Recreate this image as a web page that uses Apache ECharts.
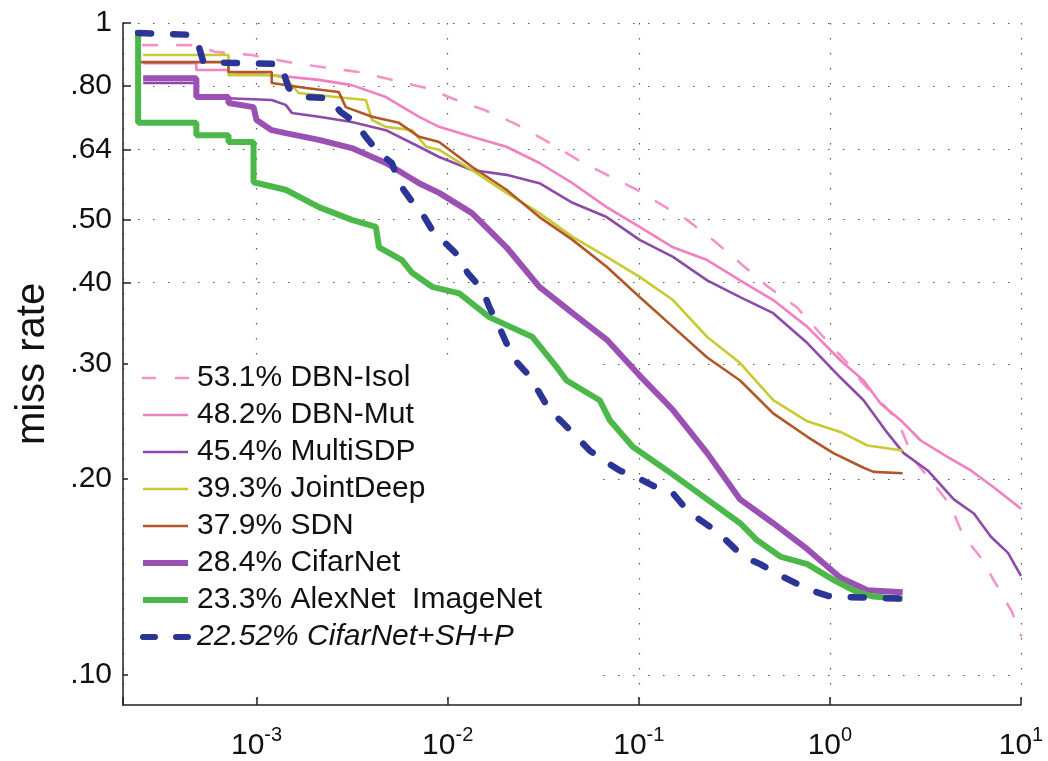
<!DOCTYPE html>
<html>
<head>
<meta charset="utf-8">
<script src="https://cdn.jsdelivr.net/npm/echarts@6/dist/echarts.min.js"></script>
<style>
  html, body { margin: 0; padding: 0; background: #fff; }
  #chart { width: 1048px; height: 761px; }
</style>
</head>
<body>
<div id="chart"></div>
<script>
// tick values
var yTicks = [0.1, 0.2, 0.3, 0.4, 0.5, 0.64, 0.8, 1];

// legend names
var names = [
    '53.1% DBN-Isol',
    '48.2% DBN-Mut',
    '45.4% MultiSDP',
    '39.3% JointDeep',
    '37.9% SDN',
    '28.4% CifarNet',
    '23.3% AlexNet  ImageNet',
    '22.52% CifarNet+SH+P'
];

// curves: [false positives per image, miss rate]
var dbnIsol = [[2.55e-4, 0.925], [4.78e-4, 0.925], [6.09e-4, 0.903], [9.41e-4, 0.893], [1.47e-3, 0.871],
    [2.19e-3, 0.856], [3.43e-3, 0.841], [5.11e-3, 0.818], [7.71e-3, 0.795], [1.11e-2, 0.762],
    [1.55e-2, 0.736], [2.32e-2, 0.698], [3.41e-2, 0.655], [5.02e-2, 0.612], [7.30e-2, 0.579],
    [9.76e-2, 0.555], [0.124, 0.532], [0.179, 0.499], [0.251, 0.462], [0.347, 0.426],
    [0.475, 0.394], [0.675, 0.366], [0.924, 0.330], [1.236, 0.301], [1.446, 0.283],
    [2.261, 0.246], [2.744, 0.214], [3.370, 0.199], [4.29, 0.182], [4.96, 0.164],
    [6.21, 0.151], [7.39, 0.138], [8.97, 0.125], [10, 0.115]];

var dbnMut = [[2.55e-4, 0.868], [4.84e-4, 0.868], [4.84e-4, 0.847], [7.13e-4, 0.847], [7.13e-4, 0.841],
    [1.20e-3, 0.832], [2.12e-3, 0.818], [3.15e-3, 0.803], [4.75e-3, 0.770], [7.09e-3, 0.718],
    [9.02e-3, 0.693], [1.34e-2, 0.669], [2.03e-2, 0.646], [3.02e-2, 0.610], [4.50e-2, 0.568],
    [6.79e-2, 0.522], [0.101, 0.487], [0.151, 0.453], [0.228, 0.433], [0.339, 0.403],
    [0.505, 0.376], [0.762, 0.342], [1.135, 0.304], [1.50, 0.283], [1.841, 0.261],
    [2.345, 0.246], [2.987, 0.229], [4.139, 0.216], [5.465, 0.206], [7.218, 0.194], [10, 0.180]];

var multiSdp = [[2.55e-4, 0.809], [4.84e-4, 0.809], [4.84e-4, 0.770], [1.20e-3, 0.762], [1.42e-3, 0.749],
    [1.53e-3, 0.728], [2.12e-3, 0.718], [3.15e-3, 0.705], [4.75e-3, 0.685], [7.09e-3, 0.646],
    [9.02e-3, 0.623], [1.34e-2, 0.595], [2.03e-2, 0.585], [3.02e-2, 0.568], [4.50e-2, 0.530],
    [6.79e-2, 0.504], [0.101, 0.465], [0.151, 0.438], [0.228, 0.403], [0.339, 0.380],
    [0.505, 0.359], [0.762, 0.323], [1.135, 0.286], [1.50, 0.264], [2.004, 0.235],
    [2.432, 0.219], [3.250, 0.206], [4.449, 0.186], [5.667, 0.177], [6.960, 0.163],
    [8.55, 0.154], [10, 0.142]];

var jointDeep = [[2.55e-4, 0.893], [7.13e-4, 0.893], [7.13e-4, 0.832], [1.20e-3, 0.832], [1.42e-3, 0.823],
    [1.66e-3, 0.781], [2.60e-3, 0.770], [3.73e-3, 0.762], [4.02e-3, 0.710], [4.75e-3, 0.693],
    [6.51e-3, 0.685], [7.71e-3, 0.646], [9.02e-3, 0.639], [1.34e-2, 0.595], [2.03e-2, 0.549],
    [3.02e-2, 0.511], [4.50e-2, 0.470], [6.79e-2, 0.438], [0.101, 0.408], [0.151, 0.376],
    [0.228, 0.330], [0.339, 0.301], [0.505, 0.264], [0.762, 0.245], [1.135, 0.236],
    [1.574, 0.225], [2.403, 0.221]];

var sdn = [[2.40e-4, 0.871], [7.13e-4, 0.871], [7.13e-4, 0.841], [1.20e-3, 0.841], [1.20e-3, 0.809],
    [1.81e-3, 0.795], [2.69e-3, 0.784], [2.93e-3, 0.743], [4.02e-3, 0.718], [5.56e-3, 0.703],
    [7.09e-3, 0.669], [9.02e-3, 0.657], [1.34e-2, 0.602], [2.03e-2, 0.555], [3.02e-2, 0.504],
    [4.50e-2, 0.465], [6.79e-2, 0.423], [0.101, 0.380], [0.151, 0.342], [0.228, 0.307],
    [0.339, 0.283], [0.505, 0.252], [0.762, 0.232], [1.043, 0.219], [1.50, 0.208],
    [1.692, 0.205], [2.403, 0.204]];

var cifarNet = [[2.55e-4, 0.823], [4.84e-4, 0.823], [4.84e-4, 0.770], [7.13e-4, 0.770], [7.13e-4, 0.754],
    [9.64e-4, 0.743], [1.0e-3, 0.710], [1.20e-3, 0.685], [1.42e-3, 0.678], [2.12e-3, 0.662],
    [3.15e-3, 0.643], [4.75e-3, 0.610], [7.09e-3, 0.568], [9.02e-3, 0.549], [1.34e-2, 0.511],
    [2.03e-2, 0.453], [3.02e-2, 0.394], [4.50e-2, 0.359], [6.79e-2, 0.327], [0.101, 0.288],
    [0.151, 0.255], [0.228, 0.219], [0.339, 0.186], [0.505, 0.171], [0.762, 0.156],
    [1.135, 0.141], [1.574, 0.135], [2.403, 0.134]];

var alexNet = [[2.40e-4, 0.976], [2.40e-4, 0.703], [4.84e-4, 0.703], [4.84e-4, 0.673], [7.13e-4, 0.673],
    [7.13e-4, 0.657], [9.64e-4, 0.657], [9.64e-4, 0.570], [1.42e-3, 0.555], [2.12e-3, 0.522],
    [3.15e-3, 0.499], [4.21e-3, 0.487], [4.37e-3, 0.453], [5.77e-3, 0.433], [6.51e-3, 0.414],
    [8.29e-3, 0.394], [1.15e-2, 0.385], [1.65e-2, 0.354], [2.78e-2, 0.330], [3.71e-2, 0.297],
    [4.19e-2, 0.283], [6.24e-2, 0.264], [7.05e-2, 0.246], [9.30e-2, 0.224], [0.151, 0.203],
    [0.228, 0.186], [0.339, 0.171], [0.416, 0.161], [0.550, 0.152], [0.762, 0.148],
    [1.043, 0.140], [1.394, 0.134], [1.692, 0.132], [2.403, 0.131]];

var cifarShp = [[2.40e-4, 0.965], [4.67e-4, 0.959], [4.96e-4, 0.925], [5.27e-4, 0.871], [1.34e-3, 0.865],
    [1.47e-3, 0.795], [1.76e-3, 0.770], [2.39e-3, 0.767], [2.76e-3, 0.730], [3.31e-3, 0.703],
    [3.73e-3, 0.669], [4.37e-3, 0.632], [5.11e-3, 0.610], [5.56e-3, 0.568], [6.43e-3, 0.535],
    [7.34e-3, 0.511], [8.49e-3, 0.476], [9.94e-3, 0.457], [1.15e-2, 0.438], [1.27e-2, 0.414],
    [1.52e-2, 0.390], [1.65e-2, 0.367], [1.86e-2, 0.342], [2.03e-2, 0.323], [2.32e-2, 0.301],
    [2.58e-2, 0.291], [3.02e-2, 0.271], [3.41e-2, 0.255], [3.99e-2, 0.244], [4.73e-2, 0.232],
    [5.53e-2, 0.221], [6.47e-2, 0.214], [7.95e-2, 0.206], [9.76e-2, 0.201], [0.124, 0.194],
    [0.151, 0.190], [0.179, 0.179], [0.209, 0.173], [0.257, 0.166], [0.300, 0.159],
    [0.351, 0.152], [0.432, 0.148], [0.530, 0.143], [0.675, 0.138], [0.790, 0.135],
    [1.006, 0.132], [2.403, 0.131]];

var colors = ['#F493CA', '#F080BF', '#8E4AA8', '#C8CA34', '#B0582A', '#9B50B4', '#4CB84A', '#2A3595'];

var font = '"Liberation Sans", Arial, Helvetica, sans-serif';

function line(name, data, color, width, dash) {
    return {
        name: name,
        type: 'line',
        data: data,
        symbol: 'none',
        showSymbol: false,
        lineStyle: { color: color, width: width, type: dash || 'solid', cap: dash ? 'round' : 'butt' },
        itemStyle: { color: color },
        animation: false,
        silent: true
    };
}

function legendItem(i, width, dash, extra) {
    var item = { name: names[i], lineStyle: { color: colors[i], width: width, type: dash || 'solid' } };
    if (extra) item.textStyle = extra;
    return item;
}

var chart = echarts.init(document.getElementById('chart'));
var option = {
    backgroundColor: '#fff',
    animation: false,
    grid: { left: 123, right: 27, top: 23, bottom: 56 },
    legend: {
        orient: 'vertical',
        left: 128,
        top: 355,
        z: 1,
        itemWidth: 45,
        itemHeight: 14,
        itemGap: 7,
        backgroundColor: '#fff',
        padding: [8, 60, 40, 12],
        itemStyle: { opacity: 0, borderWidth: 0 },
        textStyle: { fontFamily: font, fontSize: 30, lineHeight: 30, color: '#111', padding: [0, 0, 0, 4] },
        data: [
            legendItem(0, 2.6, [12, 21]),
            legendItem(1, 2.6),
            legendItem(2, 2.6),
            legendItem(3, 2.6),
            legendItem(4, 2.6),
            legendItem(5, 6),
            legendItem(6, 6),
            legendItem(7, 6, [12, 21], { fontStyle: 'italic' })
        ]
    },
    xAxis: {
        type: 'log',
        logBase: 10,
        min: 2e-4,
        max: 10,
        axisLine: { onZero: false, lineStyle: { color: '#222', width: 1.5 } },
        axisTick: { inside: true, length: 8, lineStyle: { color: '#222', width: 1.5 } },
        axisLabel: {
            margin: 20,
            formatter: function (v) {
                var e = Math.log10(v);
                if (Math.abs(e - Math.round(e)) > 1e-6) return '';
                return '{b|10}{s|' + Math.round(e) + '}';
            },
            rich: {
                b: { fontFamily: font, fontSize: 30, lineHeight: 36, color: '#111', verticalAlign: 'bottom' },
                s: { fontFamily: font, fontSize: 20, lineHeight: 22, color: '#111', verticalAlign: 'top' }
            }
        },
        splitLine: { show: true, lineStyle: { color: '#555', width: 1.2, type: [1.5, 13.5] } }
    },
    yAxis: {
        type: 'log',
        logBase: 10,
        min: 0.09,
        max: 1,
        name: 'miss rate',
        nameLocation: 'middle',
        nameRotate: 90,
        nameGap: 70,
        nameTextStyle: { fontFamily: font, fontSize: 40, color: '#111' },
        axisLine: { onZero: false, lineStyle: { color: '#222', width: 1.5 } },
        axisTick: { inside: true, length: 8, customValues: yTicks, lineStyle: { color: '#222', width: 1.5 } },
        axisLabel: {
            margin: 11,
            customValues: yTicks,
            fontFamily: font,
            fontSize: 30,
            color: '#111',
            formatter: function (v) {
                if (v >= 0.999) return '1';
                return '.' + Math.round(v * 100);
            }
        },
        splitLine: { show: true, lineStyle: { color: '#555', width: 1.2, type: [1.5, 13.5] } }
    },
    series: [
        line(names[0], dbnIsol, colors[0], 2.6, [14, 20]),
        line(names[1], dbnMut, colors[1], 2.6),
        line(names[2], multiSdp, colors[2], 2.6),
        line(names[3], jointDeep, colors[3], 2.6),
        line(names[4], sdn, colors[4], 2.6),
        line(names[5], cifarNet, colors[5], 6),
        line(names[6], alexNet, colors[6], 6),
        line(names[7], cifarShp, colors[7], 6.5, [13, 22])
    ]
};
chart.setOption(option);
</script>
</body>
</html>
